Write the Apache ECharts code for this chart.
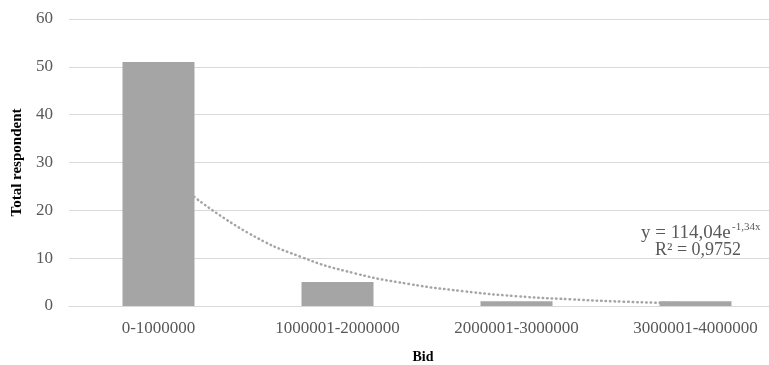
<!DOCTYPE html>
<html>
<head>
<meta charset="utf-8">
<script src="https://cdn.jsdelivr.net/npm/echarts@6/dist/echarts.min.js"></script>
<style>
  html, body { margin: 0; padding: 0; background: #fff; }
  #chartBox { width: 769px; height: 365px; }
</style>
</head>
<body>
<div id="chartBox"></div>
<script>
const categories = ['0-1000000', '1000001-2000000', '2000001-3000000', '3000001-4000000'];
const respondents = [51, 5, 1, 1];
// exponential trendline (x in category units, 1 = first bar)
const trendX = [1.2, 1.5, 1.8, 2.1, 2.4, 2.7, 3.0, 3.3, 3.6, 3.9];
const trendY = [22.8, 15.3, 10.2, 6.8, 4.6, 3.1, 2.05, 1.4, 0.9, 0.6];
const yTicks = [0, 10, 20, 30, 40, 50, 60];

const chart = echarts.init(document.getElementById('chartBox'));
const font = "'Liberation Serif', 'Times New Roman', serif";
const txt = '#595959';

const option = {
  animation: false,
  textStyle: { fontFamily: font },
  grid: { left: 69, top: 19, width: 716, height: 287, outerBoundsMode: 'none', containLabel: false },
  xAxis: [
    {
      type: 'category',
      data: categories,
      name: 'Bid',
      nameLocation: 'middle',
      nameGap: 44,
      nameTextStyle: { fontFamily: font, fontWeight: 'bold', fontSize: 14, color: '#000', padding: [0, 8, 0, 0] },
      axisLine: { lineStyle: { color: '#d9d9d9', width: 1 } },
      axisTick: { show: false },
      axisLabel: { fontFamily: font, fontSize: 17, color: txt, margin: 14 }
    },
    {
      type: 'value',
      min: 0.5,
      max: 4.5,
      show: false
    }
  ],
  yAxis: {
    type: 'value',
    min: yTicks[0],
    max: yTicks[yTicks.length - 1],
    interval: 10,
    name: 'Total respondent',
    nameLocation: 'middle',
    nameGap: 39,
    nameTextStyle: { fontFamily: font, fontWeight: 'bold', fontSize: 15, color: '#000' },
    axisLine: { show: false },
    axisTick: { show: false },
    axisLabel: { fontFamily: font, fontSize: 17, color: txt, margin: 16 },
    splitLine: { lineStyle: { color: '#d9d9d9', width: 1 } }
  },
  series: [
    {
      type: 'line',
      xAxisIndex: 1,
      data: trendX.map((x, i) => [x, trendY[i]]),
      smooth: true,
      symbol: 'none',
      z: 1,
      lineStyle: { color: '#a5a5a5', width: 2.5, type: [0.5, 4], cap: 'round' }
    },
    {
      type: 'bar',
      data: respondents,
      barWidth: 72,
      z: 3,
      itemStyle: { color: '#a5a5a5' }
    }
  ],
  graphic: [
    { type: 'text', left: 641, top: 224, style: { text: 'y = 114,04e', font: '19px ' + font, fill: txt } },
    { type: 'text', left: 732, top: 222, style: { text: '-1,34x', font: '11px ' + font, fill: txt } },
    { type: 'text', left: 655, top: 241, style: { text: 'R² = 0,9752', font: '18px ' + font, fill: txt } }
  ]
};

chart.setOption(option);
</script>
</body>
</html>
